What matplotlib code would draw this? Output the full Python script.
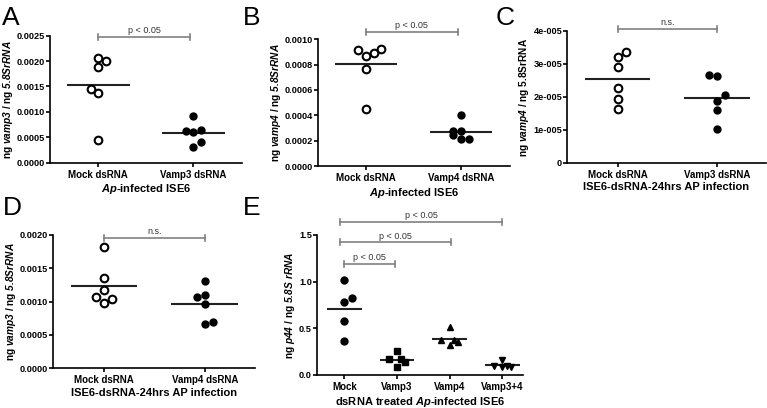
import numpy as np
import matplotlib.pyplot as plt

plt.rcParams['font.family'] = ['Liberation Sans', 'DejaVu Sans']
plt.rcParams['font.weight'] = 'bold'
plt.rcParams['mathtext.fontset'] = 'custom'
plt.rcParams['mathtext.it'] = 'Liberation Sans:italic:bold'
plt.rcParams['mathtext.rm'] = 'Liberation Sans:italic:bold'
plt.rcParams['mathtext.bf'] = 'Liberation Sans:bold'

# ---- data ----
# A
a_groups = ['Mock dsRNA', 'Vamp3 dsRNA']
a_mock = [0.00207, 0.00200, 0.00188, 0.00146, 0.00137, 0.00044]
a_vamp3 = [0.00092, 0.00062, 0.00060, 0.00064, 0.00041, 0.00031]
a_yticks = [0, 0.0005, 0.0010, 0.0015, 0.0020, 0.0025]
a_yticklabels = ['0.0000', '0.0005', '0.0010', '0.0015', '0.0020', '0.0025']
# B
b_groups = ['Mock dsRNA', 'Vamp4 dsRNA']
b_mock = [0.000916, 0.000871, 0.000895, 0.000924, 0.000766, 0.000453]
b_vamp4 = [0.000403, 0.000279, 0.000279, 0.000242, 0.000213, 0.000213]
b_yticks = [0, 0.0002, 0.0004, 0.0006, 0.0008, 0.0010]
b_yticklabels = ['0.0000', '0.0002', '0.0004', '0.0006', '0.0008', '0.0010']
# C
c_groups = ['Mock dsRNA', 'Vamp3 dsRNA']
c_mock = [3.20e-5, 3.36e-5, 2.91e-5, 2.28e-5, 1.94e-5, 1.63e-5]
c_vamp3 = [2.67e-5, 2.64e-5, 2.06e-5, 1.88e-5, 1.60e-5, 1.03e-5]
c_yticks = [0, 1e-5, 2e-5, 3e-5, 4e-5]
c_yticklabels = ['0', '1e-005', '2e-005', '3e-005', '4e-005']
# D
d_groups = ['Mock dsRNA', 'Vamp4 dsRNA']
d_mock = [0.001815, 0.001355, 0.00118, 0.001065, 0.000985, 0.001045]
d_vamp4 = [0.001305, 0.001075, 0.001105, 0.00096, 0.00067, 0.00069]
d_yticks = [0, 0.0005, 0.0010, 0.0015, 0.0020]
d_yticklabels = ['0.0000', '0.0005', '0.0010', '0.0015', '0.0020']
# E
e_groups = ['Mock', 'Vamp3', 'Vamp4', 'Vamp3+4']
e_mock = [1.014, 0.786, 0.82, 0.582, 0.36]
e_vamp3 = [0.254, 0.168, 0.168, 0.136, 0.089]
e_vamp4 = [0.514, 0.371, 0.379, 0.354, 0.325]
e_vamp34 = [0.157, 0.093, 0.090, 0.100, 0.090]
e_yticks = [0, 0.5, 1.0, 1.5]
e_yticklabels = ['0.0', '0.5', '1.0', '1.5']

# horizontal scatter of points (as placed in the original)
a_dx = [[0, 0.08, 0, -0.08, 0, 0], [0, -0.08, 0, 0.08, 0.08, 0]]
b_dx = [[-0.08, 0, 0.08, 0.16, 0, 0], [0, -0.08, 0, -0.08, 0, 0.08]]
c_dx = [[0, 0.08, 0, 0, 0, 0], [-0.08, 0, 0.08, 0, 0, 0]]
d_dx = [[0, 0, 0, -0.08, 0, 0.08], [0, -0.08, 0, 0, 0, 0.08]]
e_dx = [[0, 0, 0.15, 0, 0], [0, -0.15, 0.08, 0.16, 0],
        [0, -0.16, 0.08, 0.16, 0], [0, -0.16, 0, 0.08, 0.17]]

W, H = 767, 408
fig = plt.figure(figsize=(W / 100, H / 100), dpi=100)


def make_ax(left, right, top, bottom, first, step, n):
    ax = fig.add_axes([left / W, 1 - bottom / H, (right - left) / W, (bottom - top) / H])
    ax.set_xlim((left - first) / step, (right - first) / step)
    for s in ['top', 'right']:
        ax.spines[s].set_visible(False)
    for s in ['left', 'bottom']:
        ax.spines[s].set_linewidth(1.2)
    ax.tick_params(axis='y', direction='out', length=3, width=1.2, pad=0.5, labelsize=6.6)
    ax.tick_params(axis='x', direction='out', length=3, width=1.2, pad=2, labelsize=7)
    ax.set_xticks(range(n))
    return ax


def scatter(ax, groups, series, dxs, styles, yticks, yticklabels, ylabel, xlabel):
    for i, (vals, dx, st) in enumerate(zip(series, dxs, styles)):
        xs = [i + d for d in dx]
        ax.plot(xs, vals, linestyle='none', clip_on=False, **st)
        ax.hlines(np.mean(vals), i - 0.33, i + 0.33, color='#222222', lw=1.5, zorder=1)
    ax.set_xticklabels(groups, fontweight='bold')
    ax.set_ylim(yticks[0], yticks[-1])
    ax.set_yticks(yticks)
    ax.set_yticklabels(yticklabels, fontweight='bold')
    ax.set_ylabel(ylabel, fontsize=7.3, fontweight='bold', labelpad=1.5)
    ax.set_xlabel(xlabel, fontsize=8, fontweight='bold', labelpad=2)


def bracket(ax, x0, x1, y, text):
    lo, hi = ax.get_ylim()
    h = (hi - lo) / (ax.bbox.height) * 3
    ax.plot([x0, x1], [y, y], color='#808080', lw=1.2, clip_on=False)
    for xx in (x0, x1):
        ax.plot([xx, xx], [y - h, y + h], color='#808080', lw=1.2, clip_on=False)
    ax.text((x0 + x1) / 2, y + h * 0.6, text, ha='center', va='bottom',
            fontsize=6.5, fontweight='normal', color='#333333')


open_c = dict(marker='o', ms=5.5, mfc='white', mec='black', mew=1.5)
fill_c = dict(marker='o', ms=5, mfc='black', mec='black')
fill_s = dict(marker='s', ms=4.3, mfc='black', mec='black')
fill_t = dict(marker='^', ms=4.8, mfc='black', mec='black')
fill_v = dict(marker='v', ms=4.8, mfc='black', mec='black')

# A
ax = make_ax(50, 242, 35.7, 162.7, 98.3, 95, 2)
scatter(ax, a_groups, [a_mock, a_vamp3], a_dx, [open_c, fill_c], a_yticks, a_yticklabels,
        r'ng $\mathit{vamp3}$ / ng $\mathit{5.8SrRNA}$', r'$\mathit{Ap}$-infected ISE6')
bracket(ax, 0, 0.965, 0.00248, 'p < 0.05')

# B
ax = make_ax(318, 510, 39.3, 166, 366, 95, 2)
scatter(ax, b_groups, [b_mock, b_vamp4], b_dx, [open_c, fill_c], b_yticks, b_yticklabels,
        r'ng $\mathit{vamp4}$ / ng $\mathit{5.8SrRNA}$', r'$\mathit{Ap}$-infected ISE6')
bracket(ax, 0, 0.965, 0.00106, 'p < 0.05')

# C
ax = make_ax(567, 766, 31, 162.7, 617.7, 99.3, 2)
scatter(ax, c_groups, [c_mock, c_vamp3], c_dx, [open_c, fill_c], c_yticks, c_yticklabels,
        r'ng $\mathit{vamp4}$ / ng 5.8SrRNA', 'ISE6-dsRNA-24hrs AP infection')
bracket(ax, 0, 1, 4.07e-5, 'n.s.')

# D
ax = make_ax(53, 255, 235, 368.3, 104, 100.7, 2)
scatter(ax, d_groups, [d_mock, d_vamp4], d_dx, [open_c, fill_c], d_yticks, d_yticklabels,
        r'ng $\mathit{vamp3}$ / ng $\mathit{5.8SrRNA}$', 'ISE6-dsRNA-24hrs AP infection')
bracket(ax, 0, 1, 0.00196, 'n.s.')

# E
ax = make_ax(316.7, 523, 235, 375, 344.3, 52.7, 4)
scatter(ax, e_groups, [e_mock, e_vamp3, e_vamp4, e_vamp34], e_dx,
        [fill_c, fill_s, fill_t, fill_v], e_yticks, e_yticklabels,
        r'ng $\mathit{p44}$ / ng $\mathit{5.8S\ rRNA}$',
        r'dsRNA treated $\mathit{Ap}$-infected ISE6')
bracket(ax, 0, 0.97, 1.19, 'p < 0.05')
bracket(ax, -0.08, 2.03, 1.42, 'p < 0.05')
bracket(ax, -0.08, 3.0, 1.64, 'p < 0.05')

# panel letters
for lab, x, y in [('A', 2, 25), ('B', 243, 25), ('C', 496, 25), ('D', 3, 215), ('E', 243, 215)]:
    fig.text(x / W, 1 - y / H, lab, fontsize=19, fontweight='normal', ha='left', va='baseline')

fig.savefig('out.png', dpi=100, facecolor='white')
